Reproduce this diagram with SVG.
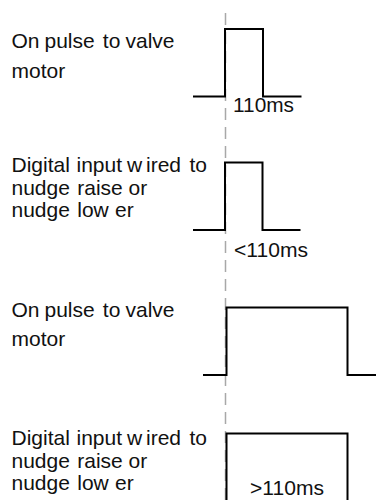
<svg xmlns="http://www.w3.org/2000/svg" width="376" height="500" viewBox="0 0 376 500">
  <style>
    .t { font-family: "Liberation Sans", Arial, sans-serif; font-size: 21px; fill: #111; }
    .l { font-family: "Liberation Sans", Arial, sans-serif; font-size: 20px; fill: #111; }
    .w { fill: none; stroke: #000; stroke-width: 2; stroke-linejoin: miter; }
    .ref { fill: none; stroke: #a8a8a8; stroke-width: 1.5; stroke-dasharray: 12 7; }
  </style>
  <rect width="376" height="500" fill="#fff"/>

  <g id="connectors">
    <line class="ref" x1="225.5" y1="13" x2="225.5" y2="500"/>
  </g>

  <g id="label1">
    <text class="t" x="11.5" y="48">On <tspan dx="-0.9">pulse</tspan> <tspan dx="2.3">to</tspan> <tspan dx="-0.7">valve</tspan></text>
    <text class="t" x="11.5" y="77.5">motor</text>
  </g>

  <g id="pulse1">
    <polyline class="w" points="193,96.5 225,96.5 225,29 263,29 263,96.5 301.5,96.5"/>
    <text class="l" x="233" y="111.5" textLength="61" lengthAdjust="spacingAndGlyphs">110ms</text>
  </g>

  <g id="label2">
    <text class="t" x="11.5" y="172">Digital <tspan dx="0.8">input</tspan> <tspan dx="-0.9">w</tspan> <tspan dx="-2">ired</tspan> <tspan dx="2.5">to</tspan></text>
    <text class="t" x="11.5" y="194.5">nudge <tspan dx="1.5">raise</tspan> <tspan dx="0">or</tspan></text>
    <text class="t" x="11.5" y="217">nudge <tspan dx="1.5">low</tspan> <tspan dx="0.5">er</tspan></text>
  </g>

  <g id="pulse2">
    <polyline class="w" points="193,230 225,230 225,162.5 262.5,162.5 262.5,230 300.5,230"/>
    <text class="l" x="234" y="257" textLength="74" lengthAdjust="spacingAndGlyphs">&lt;110ms</text>
  </g>

  <g id="label3">
    <text class="t" x="11.5" y="316.5">On <tspan dx="-0.9">pulse</tspan> <tspan dx="2.3">to</tspan> <tspan dx="-0.7">valve</tspan></text>
    <text class="t" x="11.5" y="345.5">motor</text>
  </g>

  <g id="pulse3">
    <polyline class="w" points="203,375 226.5,375 226.5,307.5 347.5,307.5 347.5,375 376,375"/>
  </g>

  <g id="label4">
    <text class="t" x="11.5" y="445">Digital <tspan dx="0.8">input</tspan> <tspan dx="-0.9">w</tspan> <tspan dx="-2">ired</tspan> <tspan dx="2.5">to</tspan></text>
    <text class="t" x="11.5" y="467.5">nudge <tspan dx="1.5">raise</tspan> <tspan dx="0">or</tspan></text>
    <text class="t" x="11.5" y="490">nudge <tspan dx="1.5">low</tspan> <tspan dx="0.5">er</tspan></text>
  </g>

  <g id="pulse4">
    <polyline class="w" points="226.5,500 226.5,433.5 347.5,433.5 347.5,500"/>
    <text class="l" x="250" y="495" textLength="74" lengthAdjust="spacingAndGlyphs">&gt;110ms</text>
  </g>
</svg>
